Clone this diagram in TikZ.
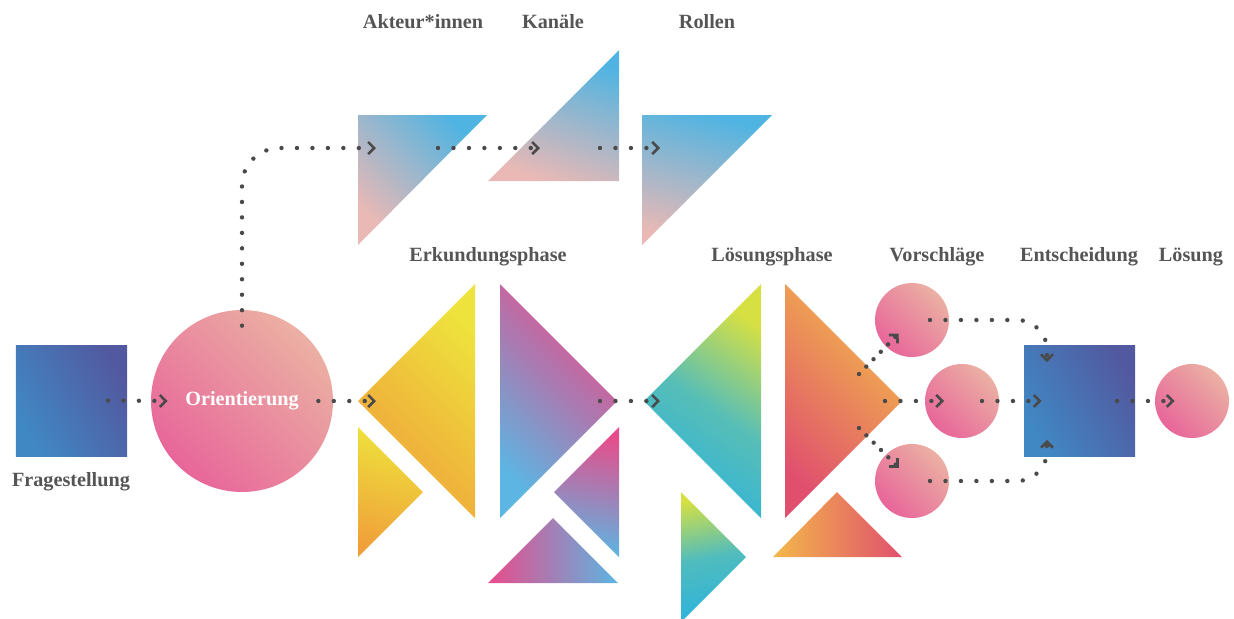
\documentclass[tikz,border=0pt]{standalone}
\usepackage{fontspec}
\setmainfont{Liberation Serif}
\usetikzlibrary{arrows.meta}
\definecolor{ink}{HTML}{555555}
\definecolor{dots}{HTML}{4A4A4A}
\definecolor{azure}{HTML}{4088C4}
\definecolor{indigo}{HTML}{5259A0}
\definecolor{pinkA}{HTML}{E8669A}
\definecolor{pinkB}{HTML}{EBB0A3}
\definecolor{blueT}{HTML}{4FB4E2}
\definecolor{pinkT}{HTML}{EAB9B5}
\definecolor{sun}{HTML}{EEE23C}
\definecolor{amber}{HTML}{F0A03A}
\definecolor{rose}{HTML}{E84C8A}
\definecolor{sky}{HTML}{5CB5E2}
\definecolor{lime}{HTML}{D6E043}
\definecolor{cyan}{HTML}{2EB3DC}
\definecolor{coral}{HTML}{E0506E}
\definecolor{gold}{HTML}{F3B84A}

\begin{document}
\begin{tikzpicture}[
  x=0.2mm, y=-0.2mm,
  font=\bfseries\fontsize{11.5}{14}\selectfont,
  lbl/.style={text=ink, inner sep=0pt},
  box/.style={rectangle, minimum size=22.2mm, inner sep=0pt, bottom color=azure, top color=indigo, shading angle=-60},
  blob/.style={circle, minimum size=14.8mm, inner sep=0pt, bottom color=pinkA, top color=pinkB, shading angle=-45},
  tile/.style n args={3}{bottom color=#1, top color=#2, shading angle=#3},
  flow/.style={draw=dots, line width=2.5pt, line cap=round, dash pattern=on 0pt off 8.8pt,
               -{Straight Barb[length=1.2mm, width=2.4mm, line width=1.5pt]}},
  diag/.style={flow, dash pattern=on 0pt off 5.9pt}
]
  \useasboundingbox (0,0) rectangle (1234,618);

  % Erkundung: obere Reihe
  \shade[tile={pinkT}{blueT}{-45}] (358,115) -- (487,115) -- (358,245) -- cycle;
  \shade[tile={pinkT}{blueT}{-20}] (619,50) -- (619,181) -- (488,181) -- cycle;
  \shade[tile={pinkT}{blueT}{-15}] (642,115) -- (772,115) -- (642,245) -- cycle;

  % Erkundungsphase
  \shade[tile={amber}{sun}{-45}] (475,284) -- (475,518) -- (358,401) -- cycle;
  \shade[tile={amber}{sun}{-15}] (358,427) -- (358,557) -- (423,492) -- cycle;
  \shade[tile={sky}{rose}{-45}] (500,284) -- (500,518) -- (617,401) -- cycle;
  \shade[tile={sky}{rose}{-10}] (619,427) -- (619,557) -- (554,492) -- cycle;
  \shade[tile={rose}{sky}{-90}] (488,583) -- (618,583) -- (553,518) -- cycle;

  % Loesungsphase
  \shade[tile={cyan}{lime}{-35}, middle color=cyan!75!lime] (761,284) -- (761,518) -- (644,401) -- cycle;
  \shade[tile={cyan}{lime}{10}, middle color=cyan!80!lime] (681,492) -- (681,622) -- (746,557) -- cycle;
  \shade[tile={coral}{gold}{-45}] (785,284) -- (785,518) -- (902,401) -- cycle;
  \shade[tile={gold}{coral}{-90}] (773,557) -- (902,557) -- (837,492) -- cycle;

  \node[box] (frage) at (71.5,400.5) {};
  \node[blob, minimum size=36.4mm, text=white] (orient) at (242,401) {Orientierung};
  \node[blob] (vor1) at (912,320) {};
  \node[blob] (vor2) at (962,401) {};
  \node[blob] (vor3) at (912,481) {};
  \node[box] (ent) at (1079.5,401) {};
  \node[blob] (loesung) at (1192,401) {};

  \node[lbl] (l-frage) at (71,482) {Fragestellung};
  \node[lbl] (l-akteur) at (423,22) {Akteur*innen};
  \node[lbl] (l-kanale) at (553,22) {Kanäle};
  \node[lbl] (l-rollen) at (707,22) {Rollen};
  \node[lbl] (l-erk) at (488,257) {Erkundungsphase};
  \node[lbl] (l-loes) at (772,257) {Lösungsphase};
  \node[lbl] (l-vor) at (937,257) {Vorschläge};
  \node[lbl] (l-ent) at (1079,257) {Entscheidung};
  \node[lbl] (l-loesung) at (1191,257) {Lösung};

  \coordinate (akteur-in) at (376,148);
  \coordinate (akteur-out) at (438,148);
  \coordinate (kanale-in) at (540,148);
  \coordinate (kanale-out) at (600,148);
  \coordinate (rollen-in) at (660,148);
  \coordinate (erk-in) at (376,401);
  \coordinate (erk-out) at (600,401);
  \coordinate (loes-in) at (660,401);
  \coordinate (loes-up) at (859,374);
  \coordinate (loes-mid) at (885,401);
  \coordinate (loes-down) at (859,428);

  \draw[flow] ([xshift=7.3mm]frage.center) -- ([xshift=3.4mm]orient.west);
  \draw[flow] ([xshift=-3mm]orient.east) -- (erk-in);
  \draw[flow, rounded corners=7.5mm] ([yshift=-3.2mm]orient.north) |- (akteur-in);
  \draw[flow] (akteur-out) -- (kanale-in);
  \draw[flow] (kanale-out) -- (rollen-in);
  \draw[flow] (erk-out) -- (loes-in);
  \draw[diag, shorten >=3.8mm] (loes-up) -- (vor1.center);
  \draw[flow, shorten >=3.6mm] (loes-mid) -- (vor2.center);
  \draw[diag, shorten >=3.8mm] (loes-down) -- (vor3.center);
  \draw[flow, rounded corners=6mm] ([xshift=3.6mm]vor1.center) -| ([xshift=-6.5mm, yshift=-3.4mm]ent.north);
  \draw[flow] ([xshift=4mm]vor2.center) -- ([xshift=3.6mm]ent.west);
  \draw[flow, rounded corners=6mm] ([xshift=3.6mm]vor3.center) -| ([xshift=-6.5mm, yshift=3.4mm]ent.south);
  \draw[flow] ([xshift=7.5mm]ent.center) -- ([xshift=4mm]loesung.west);
\end{tikzpicture}
\end{document}
